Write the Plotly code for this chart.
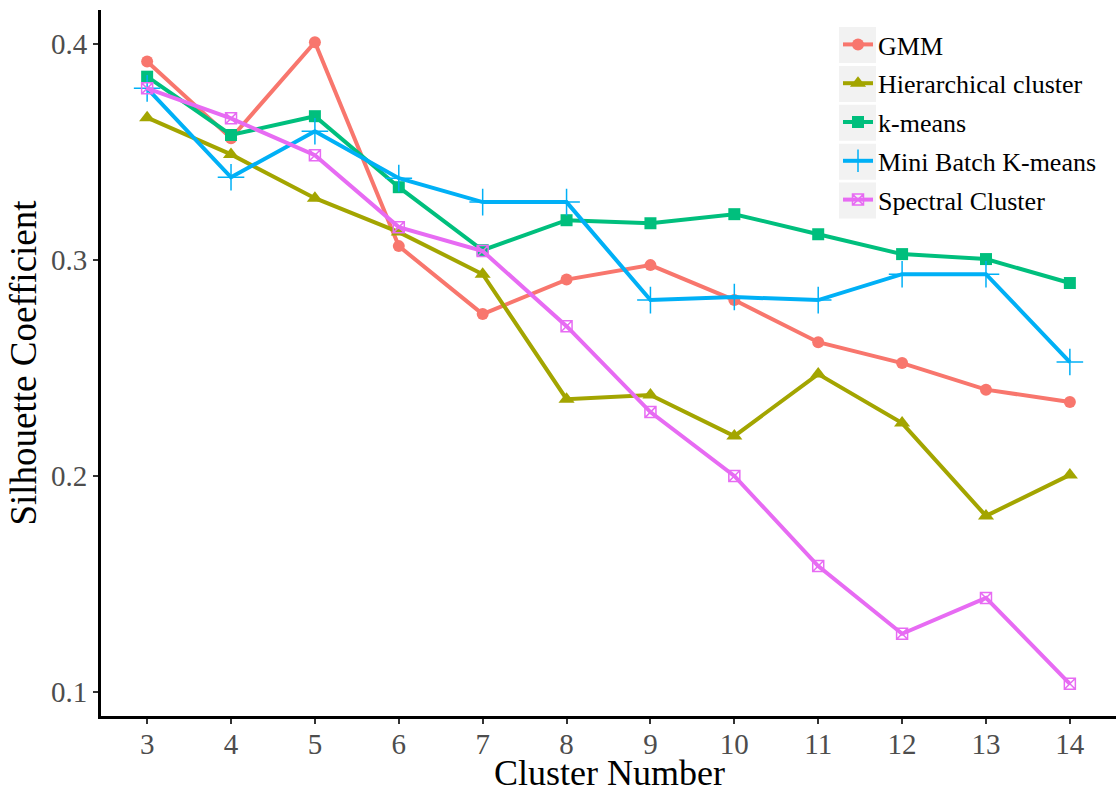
import plotly.graph_objects as go

clusters = [3, 4, 5, 6, 7, 8, 9, 10, 11, 12, 13, 14]
gmm = [0.392, 0.3565, 0.401, 0.3065, 0.275, 0.291, 0.2977, 0.2815, 0.262, 0.2523, 0.240, 0.2343]
hier = [0.366, 0.349, 0.3287, 0.313, 0.2935, 0.2356, 0.2375, 0.2185, 0.2472, 0.2245, 0.1815, 0.2005]
kmeans = [0.385, 0.358, 0.3667, 0.3338, 0.3046, 0.3185, 0.3171, 0.3213, 0.312, 0.3028, 0.3005, 0.2894]
minibatch = [0.3796, 0.3384, 0.3597, 0.338, 0.3269, 0.3269, 0.2815, 0.2829, 0.2815, 0.2935, 0.2935, 0.2528]
spectral = [0.3796, 0.3657, 0.3486, 0.3153, 0.3042, 0.2694, 0.2296, 0.200, 0.1583, 0.1269, 0.1435, 0.1037]

series = [
    ("GMM", gmm, "#F8766D", "circle", 12, 0),
    ("Hierarchical cluster", hier, "#A3A500", "triangle-up", 14, 0),
    ("k-means", kmeans, "#00BF7D", "square", 12, 0),
    ("Mini Batch K-means", minibatch, "#00B0F6", "cross-thin-open", 19, 1.5),
    ("Spectral Cluster", spectral, "#E76BF3", "square-x-open", 11, 1.5),
]

fig = go.Figure()
for i, (name, vals, color, sym, size, lw) in enumerate(series):
    marker = dict(symbol=sym, size=size, color=color)
    if lw:
        marker["line"] = dict(color=color, width=lw)
    fig.add_trace(go.Scatter(
        x=clusters, y=vals, name=name, mode="lines+markers",
        legendgroup="g%d" % i,
        line=dict(color=color, width=4), marker=marker,
    ))

# legend key backgrounds (ggplot style grey squares)
plot_l, plot_r, plot_t, plot_b = 101, 1116, 10, 716
def px_x(p):
    return (p - plot_l) / (plot_r - plot_l)
def px_y(p):
    return (plot_b - p) / (plot_b - plot_t)
for k in range(len(series)):
    top = 27 + 38.9 * k
    fig.add_shape(type="rect", xref="paper", yref="paper",
                  x0=px_x(839), x1=px_x(876), y0=px_y(top + 36), y1=px_y(top),
                  fillcolor="#F2F2F2", line=dict(width=0), layer="below")

font_family = "Liberation Serif, Times New Roman, serif"
fig.add_annotation(text="Cluster Number", xref="paper", yref="paper",
                   x=px_x(609), y=px_y(773), xanchor="center", yanchor="middle",
                   showarrow=False, font=dict(size=36, color="black", family=font_family))

fig.update_layout(
    width=1120, height=798,
    margin=dict(l=plot_l, r=1120 - plot_r, t=plot_t, b=798 - plot_b),
    paper_bgcolor="white", plot_bgcolor="white",
    font=dict(family=font_family, color="black"),
    legend=dict(
        x=px_x(838), y=px_y(21), xanchor="left", yanchor="top",
        bgcolor="rgba(0,0,0,0)", font=dict(size=26, family=font_family, color="black"),
        itemwidth=30, tracegroupgap=2,
    ),
    xaxis=dict(
        range=[2.45, 14.55], tickmode="array", tickvals=clusters,
        ticktext=[str(c) for c in clusters],
        showgrid=False, zeroline=False,
        showline=True, linecolor="black", linewidth=3,
        ticks="outside", ticklen=5, tickwidth=2, tickcolor="#333333",
        ticklabelstandoff=-5,
        tickfont=dict(size=29, color="#4D4D4D", family=font_family),
    ),
    yaxis=dict(
        range=[0.0888, 0.4159], tickmode="array", tickvals=[0.1, 0.2, 0.3, 0.4],
        ticktext=["0.1", "0.2", "0.3", "0.4"],
        showgrid=False, zeroline=False,
        showline=True, linecolor="black", linewidth=3,
        ticks="outside", ticklen=5, tickwidth=2, tickcolor="#333333",
        tickfont=dict(size=29, color="#4D4D4D", family=font_family),
        title=dict(text="Silhouette Coefficient", font=dict(size=37, color="black", family=font_family), standoff=4),
    ),
)

fig.write_html("out.html")
